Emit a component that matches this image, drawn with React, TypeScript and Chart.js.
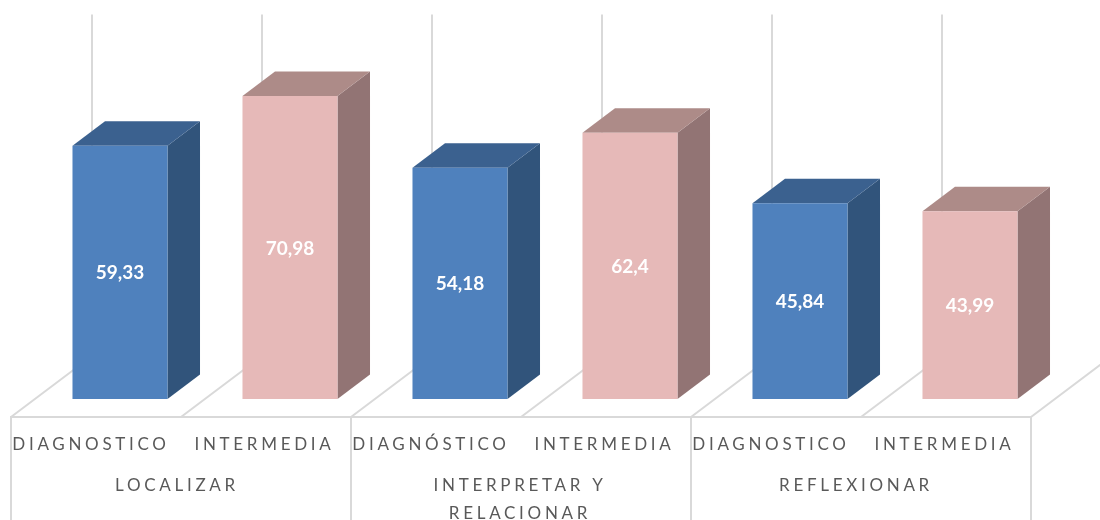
import React, { useEffect, useRef } from "react";
import { Chart, registerables } from "chart.js";

Chart.register(...registerables);

const categories = ["DIAGNOSTICO", "INTERMEDIA", "DIAGNÓSTICO", "INTERMEDIA", "DIAGNOSTICO", "INTERMEDIA"];
const groups = [["LOCALIZAR"], ["INTERPRETAR Y", "RELACIONAR"], ["REFLEXIONAR"]];
const values = [59.33, 70.98, 54.18, 62.4, 45.84, 43.99];
const valueLabels = ["59,33", "70,98", "54,18", "62,4", "45,84", "43,99"];

const FRONT = ["#4F81BD", "#E6B9B8"];
const SIDE = ["#31547B", "#927474"];
const TOP = ["#3B618F", "#AD8B88"];
const GRID = "#D9D9D9";
const TEXT = "#595959";
const FONT = "Lato, Carlito, sans-serif";

const DX = 32.5, DY = 24.5;       // bar depth
const FLOOR_DX = 81, FLOOR_DY = 61; // floor depth
const SHIFT_X = 24, SHIFT_Y = 18; // bars sit mid-way on the floor
const LABEL_NUDGE = [-5, -1.5];
const GROUP_NUDGE = [-4, -1, -5];

const box3d = {
  id: "box3d",
  beforeDatasetsDraw(chart: any) {
    const { ctx } = chart;
    const xs = chart.scales.x, ys = chart.scales.y;
    const step = xs.getPixelForValue(1) - xs.getPixelForValue(0);
    const front = ys.getPixelForValue(0) + SHIFT_Y;
    const left = xs.getPixelForValue(0) - step / 2 - SHIFT_X;
    ctx.save();
    ctx.strokeStyle = GRID;
    ctx.lineWidth = 2;
    ctx.beginPath();
    for (let i = 0; i <= categories.length; i++) {
      const x = left + i * step;
      ctx.moveTo(x, front);
      ctx.lineTo(x + FLOOR_DX, front - FLOOR_DY);
      if (i < categories.length) {
        ctx.moveTo(x + FLOOR_DX, front - FLOOR_DY);
        ctx.lineTo(x + FLOOR_DX, ys.getPixelForValue(80) - (FLOOR_DY - SHIFT_Y));
      }
    }
    ctx.moveTo(left - 1, front);
    ctx.lineTo(left + categories.length * step + 1, front);
    for (let g = 0; g <= groups.length; g++) {
      const x = left + g * 2 * step;
      ctx.moveTo(x, front);
      ctx.lineTo(x, chart.height);
    }
    ctx.stroke();

    // sides and tops of the bars
    const meta = chart.getDatasetMeta(0);
    meta.data.forEach((bar: any, i: number) => {
      const k = i % 2;
      const half = bar.width / 2;
      const r = bar.x + half, l = bar.x - half;
      ctx.fillStyle = SIDE[k];
      ctx.beginPath();
      ctx.moveTo(r, bar.y);
      ctx.lineTo(r + DX, bar.y - DY);
      ctx.lineTo(r + DX, bar.base - DY);
      ctx.lineTo(r, bar.base);
      ctx.closePath();
      ctx.fill();
      ctx.fillStyle = TOP[k];
      ctx.beginPath();
      ctx.moveTo(l, bar.y);
      ctx.lineTo(l + DX, bar.y - DY);
      ctx.lineTo(r + DX, bar.y - DY);
      ctx.lineTo(r, bar.y);
      ctx.closePath();
      ctx.fill();
    });
    ctx.restore();
  },
  afterDatasetsDraw(chart: any) {
    const { ctx } = chart;
    const xs = chart.scales.x, ys = chart.scales.y;
    const front = ys.getPixelForValue(0) + SHIFT_Y;
    ctx.save();
    ctx.textBaseline = "middle";
    ctx.textAlign = "center";

    // values on the bars
    ctx.fillStyle = "#FFFFFF";
    ctx.font = `bold 19px ${FONT}`;
    chart.getDatasetMeta(0).data.forEach((bar: any, i: number) => {
      ctx.fillText(valueLabels[i], bar.x, (bar.y + bar.base) / 2 + 1);
    });

    // category and group labels
    ctx.fillStyle = TEXT;
    ctx.font = `17px ${FONT}`;
    (ctx as any).letterSpacing = "3.7px";
    categories.forEach((label, i) => {
      ctx.fillText(label, xs.getPixelForValue(i) - SHIFT_X + LABEL_NUDGE[i % 2], front + 28);
    });
    groups.forEach((lines, g) => {
      const cx = (xs.getPixelForValue(g * 2) + xs.getPixelForValue(g * 2 + 1)) / 2 - SHIFT_X + GROUP_NUDGE[g];
      lines.forEach((line, n) => {
        ctx.fillText(line, cx, front + 69 + n * 28);
      });
    });
    ctx.restore();
  },
};

export default function App() {
  const ref = useRef<HTMLCanvasElement>(null);
  useEffect(() => {
    const chart = new Chart(ref.current!, {
      type: "bar",
      data: {
        labels: categories,
        datasets: [
          {
            data: values,
            backgroundColor: values.map((_, i) => FRONT[i % 2]),
            barPercentage: 0.559,
            categoryPercentage: 1,
          },
        ],
      },
      options: {
        responsive: false,
        animation: false,
        events: [],
        layout: { padding: { left: 35, right: 45, top: 57.5, bottom: 121 } },
        plugins: { legend: { display: false }, tooltip: { enabled: false }, title: { display: false } },
        scales: {
          x: { display: false },
          y: { display: false, min: 0, max: 80 },
        },
      },
      plugins: [box3d],
    });
    return () => chart.destroy();
  }, []);
  return (
    <div style={{ position: "fixed", left: 0, top: 0, width: 1100, height: 520, background: "#fff" }}>
      <canvas ref={ref} width={1100} height={520} style={{ display: "block" }} />
    </div>
  );
}
